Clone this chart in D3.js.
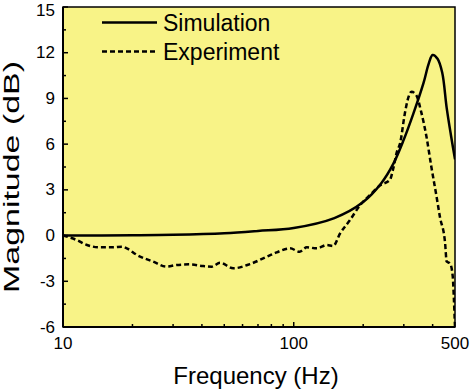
<!DOCTYPE html>
<html>
<head>
<meta charset="utf-8">
<script src="https://cdn.jsdelivr.net/npm/d3@7"></script>
<style>
  body { margin: 0; background: #fff; }
  svg { display: block; font-family: "Liberation Sans", Arial, sans-serif; }
</style>
</head>
<body>
<div id="chart"></div>
<script>
// ---- data ----
const simFreq = [10, 20, 30, 50, 70, 100, 150, 200, 240, 270, 300, 330, 365, 385, 400, 420, 440, 460, 480, 500];
const simMag  = [0, 0.02, 0.05, 0.15, 0.3, 0.5, 1.15, 2.2, 3.45, 4.7, 6.3, 8.0, 10.0, 11.3, 11.85, 11.6, 10.7, 8.4, 6.6, 5.0];

const expFreq = [10, 11.5, 12.7, 14.5, 16.5, 18, 18.9, 20.9, 24.6, 28.1, 31.1, 35.5, 40.5, 44.1, 47.9, 54.7, 64.6, 76.4, 84.4, 96.4,
                 106, 114, 126, 139, 148, 159, 175, 194, 214, 237, 261, 270, 280, 289, 303, 313, 324, 340, 357, 376,
                 395, 416, 430, 453, 460, 476, 489, 494, 500];
const expMag  = [0, -0.3, -0.62, -0.77, -0.77, -0.73, -0.84, -1.27, -1.71, -2.04, -1.93, -1.89, -2.0, -2.04, -1.78, -2.15, -1.87, -1.39, -1.1, -0.84,
                 -1.06, -0.77, -0.84, -0.62, -0.69, 0.15, 1.0, 2.0, 2.66, 3.3, 3.65, 4.4, 5.5, 6.05, 8.0, 9.0, 9.44, 9.2, 8.1, 6.5,
                 4.5, 2.55, 1.24, -0.5, -1.7, -1.83, -2.7, -4.0, -6.0];

const xMajor = [10, 100, 500];
const xMinor = [20, 30, 40, 50, 60, 70, 80, 90, 200, 300, 400];
const yMajor = [-6, -3, 0, 3, 6, 9, 12, 15];
const yMinor = [-4.5, -1.5, 1.5, 4.5, 7.5, 10.5, 13.5];
const legendNames = ["Simulation", "Experiment"];

// ---- layout ----
const W = 474, H = 389;
const pLeft = 63, pRight = 455, pTop = 7, pBottom = 327;

const svg = d3.select("#chart").append("svg").attr("width", W).attr("height", H);

const x = d3.scaleLog().domain([10, 500]).range([pLeft, pRight]);
const y = d3.scaleLinear().domain([-6, 15]).range([pBottom, pTop]);

svg.append("rect").attr("x", pLeft).attr("y", pTop)
   .attr("width", pRight - pLeft).attr("height", pBottom - pTop)
   .attr("fill", "#f8f387");

svg.append("defs").append("clipPath").attr("id", "clip")
   .append("rect").attr("x", pLeft).attr("y", pTop)
   .attr("width", pRight - pLeft).attr("height", pBottom - pTop);

// ticks (inward)
xMajor.forEach(v => svg.append("line").attr("x1", x(v)).attr("x2", x(v))
  .attr("y1", pBottom).attr("y2", pBottom - 5).attr("stroke", "#000").attr("stroke-width", 1.5));
xMinor.forEach(v => svg.append("line").attr("x1", x(v)).attr("x2", x(v))
  .attr("y1", pBottom).attr("y2", pBottom - 3).attr("stroke", "#000").attr("stroke-width", 1.5));
yMajor.forEach(v => svg.append("line").attr("x1", pLeft).attr("x2", pLeft + 5)
  .attr("y1", y(v)).attr("y2", y(v)).attr("stroke", "#000").attr("stroke-width", 1.5));
yMinor.forEach(v => svg.append("line").attr("x1", pLeft).attr("x2", pLeft + 3)
  .attr("y1", y(v)).attr("y2", y(v)).attr("stroke", "#000").attr("stroke-width", 1.5));

// tick labels
xMajor.forEach(v => svg.append("text").attr("x", x(v)).attr("y", pBottom + 22)
  .attr("text-anchor", "middle").style("font-size", "17px").text(v));
yMajor.forEach(v => svg.append("text").attr("x", pLeft - 8).attr("y", Math.max(y(v), 10))
  .attr("text-anchor", "end").attr("dominant-baseline", "central")
  .style("font-size", "17px").text(v));

// curves
const simLine = d3.line().x(d => x(d[0])).y(d => y(d[1])).curve(d3.curveCatmullRom.alpha(0.5));
const expLine = d3.line().x(d => x(d[0])).y(d => y(d[1])).curve(d3.curveMonotoneX);
const g = svg.append("g").attr("clip-path", "url(#clip)");
g.append("path").datum(d3.zip(simFreq, simMag)).attr("d", simLine)
 .attr("fill", "none").attr("stroke", "#000").attr("stroke-width", 2.5);
g.append("path").datum(d3.zip(expFreq, expMag)).attr("d", expLine)
 .attr("fill", "none").attr("stroke", "#000").attr("stroke-width", 2.5)
 .attr("stroke-dasharray", "5,3");

// frame
svg.append("rect").attr("x", pLeft).attr("y", pTop)
   .attr("width", pRight - pLeft).attr("height", pBottom - pTop)
   .attr("fill", "none").attr("stroke", "#000").attr("stroke-width", 1.5);
svg.append("line").attr("x1", pLeft).attr("x2", pLeft).attr("y1", pTop).attr("y2", pBottom)
   .attr("stroke", "#000").attr("stroke-width", 2);
svg.append("line").attr("x1", pLeft).attr("x2", pRight).attr("y1", pBottom).attr("y2", pBottom)
   .attr("stroke", "#000").attr("stroke-width", 2);

// legend
legendNames.forEach((name, i) => {
  const ly = 22.5 + i * 29;
  svg.append("line").attr("x1", 102).attr("x2", 157).attr("y1", ly).attr("y2", ly)
     .attr("stroke", "#000").attr("stroke-width", 2.5)
     .attr("stroke-dasharray", i === 1 ? "5,3" : null);
  svg.append("text").attr("x", 163).attr("y", ly).attr("dominant-baseline", "central")
     .style("font-size", "23px").text(name);
});

// axis titles
svg.append("text").attr("x", 256).attr("y", 384)
   .attr("text-anchor", "middle").style("font-size", "24px").text("Frequency (Hz)");
svg.append("text").attr("transform", "translate(19,177) rotate(-90)")
   .attr("text-anchor", "middle").style("font-size", "22px")
   .attr("textLength", 232).attr("lengthAdjust", "spacingAndGlyphs")
   .text("Magnitude (dB)");
</script>
</body>
</html>
